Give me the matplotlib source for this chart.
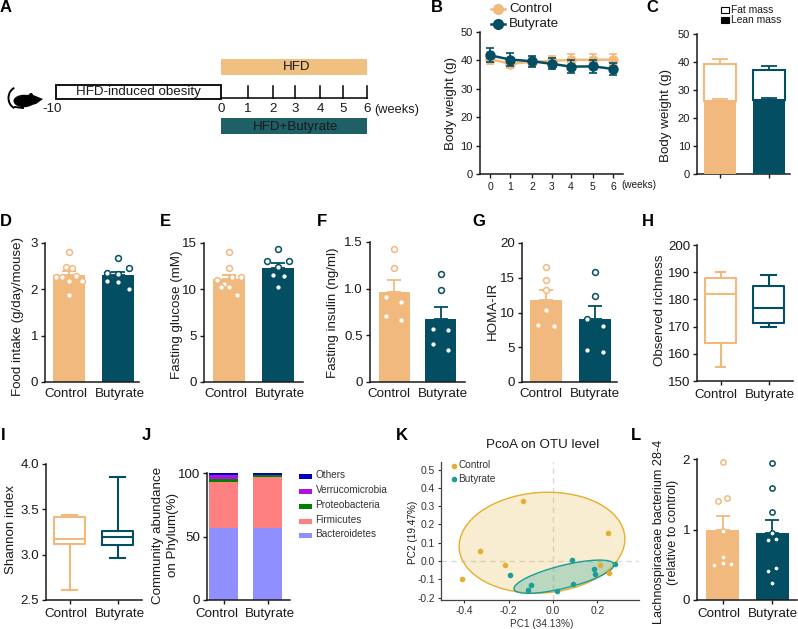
import matplotlib
matplotlib.use("Agg")
import matplotlib.pyplot as plt
from matplotlib.patches import Rectangle, Ellipse, Polygon, Arc
from matplotlib.transforms import ScaledTranslation

plt.rcParams['font.family'] = ['Liberation Sans', 'DejaVu Sans']
W, H = 798, 629
CTRL = '#F2B97E'
BUT = '#034E62'
TXT = '#1a1a1a'
groups = ['Control', 'Butyrate']

# Panel B
weeks = [0, 1, 2, 3, 4, 5, 6]
week_pos = [0, 0.98, 2.05, 3.0, 3.95, 5.02, 6.0]
b_ctrl = [40.5, 38.8, 39.5, 39.8, 40.2, 40.2, 40.3]
b_ctrl_err = [1.8, 1.6, 1.6, 1.9, 1.9, 2.0, 1.9]
b_but = [41.8, 40.3, 39.7, 38.8, 37.8, 37.9, 37.0]
b_but_err = [2.4, 2.3, 1.9, 2.0, 2.2, 2.3, 2.1]
# Panel C
c_lean = [26.0, 26.6]
c_lean_err = [0.7, 0.7]
c_total = [39.3, 37.0]
c_total_err = [1.8, 1.7]
# Panel D
d_mean = [2.3, 2.3]
d_err = [0.1, 0.08]
d_c_x = [0, -0.07, 0.07, -0.27, -0.136, 0, 0.136, 0.27, 0]
d_c_y = [2.8, 2.48, 2.45, 2.27, 2.27, 2.19, 2.28, 2.19, 1.88]
d_b_x = [0, 0.22, -0.22, 0, -0.22, 0, 0.22]
d_b_y = [2.67, 2.45, 2.35, 2.34, 2.17, 2.15, 2.0]
# Panel E
e_mean = [11.1, 12.25]
e_err = [0.5, 0.55]
e_c_x = [0, 0, -0.25, 0.07, 0.24, -0.1, -0.17, 0, 0.16]
e_c_y = [14.0, 12.3, 11.0, 11.3, 11.3, 10.6, 10.3, 10.2, 9.4]
e_b_x = [0, -0.226, 0.226, 0, -0.1, 0.116, 0]
e_b_y = [14.3, 13.1, 13.1, 12.4, 11.6, 11.4, 10.2]
# Panel F
f_mean = [0.965, 0.67]
f_err = [0.125, 0.135]
f_c_x = [0, 0, -0.17, 0.16, -0.17, 0.16]
f_c_y = [1.42, 1.225, 0.914, 0.857, 0.71, 0.668]
f_b_x = [0, 0, -0.17, 0.16, -0.17, 0.16]
f_b_y = [1.16, 0.99, 0.568, 0.56, 0.407, 0.34]
# Panel G
g_mean = [11.85, 9.05]
g_err = [1.45, 1.85]
g_c_x = [0, 0, 0, 0, -0.17, 0.16]
g_c_y = [16.6, 14.7, 13.2, 10.3, 8.25, 8.05]
g_b_x = [0, 0, -0.17, 0.17, -0.16, 0.17]
g_b_y = [15.8, 12.4, 9.0, 8.1, 4.55, 4.3]
# Panels H and I (whisker low, q1, median, q3, whisker high)
h_ctrl = [155, 164, 182, 188, 190]
h_but = [170, 171.5, 177, 185, 189]
i_ctrl = [2.61, 3.12, 3.17, 3.42, 3.44]
i_but = [2.96, 3.11, 3.19, 3.26, 3.86]
# Panel J
phyla = ['Bacteroidetes', 'Firmicutes', 'Proteobacteria', 'Verrucomicrobia', 'Others']
phyla_colors = ['#8F8FFF', '#FF8080', '#008000', '#B010E0', '#0000C0']
j_ctrl = [56.3, 37.0, 2.0, 3.2, 1.5]
j_but = [56.8, 39.7, 2.0, 0.1, 1.4]
# Panel K
k_c_x = [-0.137, 0.25, -0.33, -0.217, -0.41, 0.212, 0.254]
k_c_y = [0.327, 0.153, 0.055, -0.02, -0.10, -0.02, -0.064]
k_b_x = [0.087, 0.183, 0.19, 0.281, -0.194, -0.099, -0.113, 0.092, 0.018]
k_b_y = [0.005, -0.042, -0.069, -0.016, -0.075, -0.133, -0.159, -0.126, -0.164]
# Panel L
l_mean = [1.0, 0.95]
l_err = [0.19, 0.19]
l_c_x = [0, 0.09, -0.087, 0, 0, -0.167, 0, 0.173]
l_c_y = [1.96, 1.45, 1.405, 0.985, 0.61, 0.495, 0.52, 0.514]
l_b_x = [0, 0, 0, 0, -0.087, 0.08, 0.08, -0.087, 0]
l_b_y = [1.95, 1.59, 1.25, 0.95, 0.85, 0.87, 0.45, 0.41, 0.236]

fig = plt.figure(figsize=(W / 100, H / 100), dpi=100)
ov = fig.add_axes([0, 0, 1, 1], zorder=5)
ov.set_xlim(0, W)
ov.set_ylim(H, 0)
ov.axis('off')
ov.patch.set_alpha(0)


def make_ax(left, right, top, bottom, ylim, c0=None, c1=None, yticks=None, ylabels=None,
            tick_len=0, xlabels=True, fs=9.6, dx=(-3, 2)):
    ax = fig.add_axes([left / W, 1 - bottom / H, (right - left) / W, (bottom - top) / H])
    ax.patch.set_alpha(0)
    ax.set_ylim(*ylim)
    for s in ('top', 'right'):
        ax.spines[s].set_visible(False)
    for s in ('left', 'bottom'):
        ax.spines[s].set_linewidth(1.1)
        ax.spines[s].set_color(TXT)
    if c0 is not None:
        ax.set_xlim((left - c0) / (c1 - c0), (right - c0) / (c1 - c0))
        ax.set_xticks([0, 1])
        ax.set_xticklabels(groups if xlabels else ['', ''])
    if yticks is not None:
        ax.set_yticks(yticks)
        ax.set_yticklabels(ylabels if ylabels else [str(t) for t in yticks])
    ax.tick_params(axis='x', length=tick_len, width=1, labelsize=fs, pad=4.5 if tick_len == 0 else 2.5, colors=TXT)
    ax.tick_params(axis='y', length=3, width=1, labelsize=fs, pad=2, colors=TXT)
    if c0 is not None:
        for lab, d in zip(ax.get_xticklabels(), dx):
            lab.set_transform(lab.get_transform() + ScaledTranslation(d / 100, 0, fig.dpi_scale_trans))
    return ax


def ylabel(ax, text, x, y, fs=9.6):
    ax.set_ylabel(text, fontsize=fs, color=TXT, va='center', ha='center', linespacing=1.25)
    ax.yaxis.set_label_coords(x, y, transform=ov.transData)


def bar_panel(ax, means, errs, c_x, c_y, b_x, b_y, bw, ms=4.2):
    for i, col in enumerate((CTRL, BUT)):
        ax.bar(i, means[i], bw, color=col, zorder=2)
        ax.errorbar(i, means[i], yerr=[[0], [errs[i]]], color=col, capsize=5, capthick=1.3,
                    elinewidth=1.3, zorder=3)
    ax.plot(c_x, c_y, 'o', ms=ms, mfc='white', mec=CTRL, mew=1.1, ls='none', zorder=4)
    ax.plot([1 + v for v in b_x], b_y, 'o', ms=ms, mfc='white', mec=BUT, mew=1.1, ls='none', zorder=4)


def box_panel(ax, ctrl, but, bw, caps=(0.3, 0.3)):
    for i, (vals, col) in enumerate(zip((ctrl, but), (CTRL, BUT))):
        st = [dict(whislo=vals[0], q1=vals[1], med=vals[2], q3=vals[3], whishi=vals[4], fliers=[])]
        style = dict(color=col, linewidth=1.5)
        ax.bxp(st, positions=[i], widths=[bw], capwidths=[caps[i]], manage_ticks=False,
               boxprops=style, whiskerprops=style, capprops=style, medianprops=style)


# Panel letters
letters = {'A': (6, 8), 'B': (437, 7), 'C': (652, 7), 'D': (6, 222), 'E': (165, 222), 'F': (322, 222),
           'G': (479, 222), 'H': (648, 222), 'I': (3, 435), 'J': (146, 435), 'K': (402, 435), 'L': (636, 436)}
for k, (x, y) in letters.items():
    ov.text(x, y, k, fontsize=12, fontweight='bold', color='black', ha='center', va='center')

# Panel A: schematic
ov.add_patch(Rectangle((221, 59), 146, 16, fc='#F0C080', ec='none'))
ov.add_patch(Rectangle((221, 118), 146, 15.5, fc='#1F5F66', ec='none'))
ov.add_patch(Rectangle((55.5, 85), 165.5, 14, fc='white', ec='black', lw=1.3))
ov.text(297, 67.5, 'HFD', fontsize=9.6, ha='center', va='center', color=TXT)
ov.text(296, 127, 'HFD+Butyrate', fontsize=9.6, ha='center', va='center', color=TXT)
ov.text(138, 92, 'HFD-induced obesity', fontsize=9.6, ha='center', va='center', color=TXT)
ov.plot([221, 367], [97.5, 97.5], color='black', lw=1.1)
for x, lab in zip([221, 248, 273, 295, 320, 343, 367], ['0', '1', '2', '3', '4', '5', '6']):
    if lab != '0':
        ov.plot([x, x], [86, 97.5], color='black', lw=1.1)
    ov.text(x, 109, lab, fontsize=9.6, ha='center', va='center', color=TXT)
ov.text(52, 109, '-10', fontsize=9.6, ha='center', va='center', color=TXT)
ov.text(396.5, 109.5, '(weeks)', fontsize=9.2, ha='center', va='center', color=TXT)
# mouse icon
ov.add_patch(Ellipse((24, 101), 21, 12.5, fc='black', ec='none'))
ov.add_patch(Polygon([[26, 95], [32, 94.5], [43, 99], [36, 104], [28, 106]], fc='black', ec='none'))
ov.add_patch(Ellipse((31, 95), 4, 4, fc='black', ec='none'))
ov.add_patch(Arc((18, 98), 19, 22, theta1=110, theta2=250, color='black', lw=1.4))
ov.plot([15, 23], [107, 108], color='black', lw=1.4)

# Panel B
ax = make_ax(479.5, 623, 32, 174, (0, 50), yticks=[0, 10, 20, 30, 40, 50], tick_len=3, fs=8)
ax.set_xlim((479.5 - 490) / 20.5, (623 - 490) / 20.5)
ax.set_xticks(week_pos)
ax.set_xticklabels([str(w) for w in weeks], fontsize=7.5)
ax.errorbar(week_pos, b_ctrl, yerr=b_ctrl_err, color=CTRL, marker='o', ms=6.5, lw=1.8, capsize=3.2,
            capthick=1.2, elinewidth=1.2, zorder=3)
ax.errorbar(week_pos, b_but, yerr=b_but_err, color=BUT, marker='o', ms=6.5, lw=1.8, capsize=3.2,
            capthick=1.2, elinewidth=1.2, zorder=4)
ylabel(ax, 'Body weight (g)', 451, 103)
ov.text(639, 185.5, '(weeks)', fontsize=7.2, ha='center', va='center', color=TXT)
for y, col, lab in zip((9, 24), (CTRL, BUT), groups):
    ov.plot([491, 505], [y, y], color=col, lw=1.8)
    ov.plot([498], [y], 'o', color=col, ms=7)
    ov.text(509, y - 0.5, lab, fontsize=9.6, ha='left', va='center', color=TXT)

# Panel C
ax = make_ax(697, 790, 34, 174, (0, 50), 720, 769, [0, 10, 20, 30, 40, 50], tick_len=3, xlabels=False, fs=8)
bw = 32 / 49
for i, col in enumerate((CTRL, BUT)):
    ax.errorbar(i, c_total[i], yerr=[[0], [c_total_err[i]]], color=col, capsize=5.5, capthick=1.3, elinewidth=1.3, zorder=1)
    ax.errorbar(i, c_lean[i], yerr=[[0], [c_lean_err[i]]], color=col, capsize=5.5, capthick=1.3, elinewidth=1.3, zorder=3)
    ax.bar(i, c_total[i] - c_lean[i], bw, bottom=c_lean[i], fc='white', ec=col, lw=1.5, zorder=2)
    ax.bar(i, c_lean[i], bw, color=col, zorder=3)
ylabel(ax, 'Body weight (g)', 666, 115)
for y, fc, lab in zip((10, 20), ('white', 'black'), ('Fat mass', 'Lean mass')):
    ov.add_patch(Rectangle((721, y - 2.8), 7.5, 5.6, fc=fc, ec='black', lw=0.8))
    ov.text(731, y, lab, fontsize=7.4, ha='left', va='center', color=TXT)

# Panel D
ax = make_ax(45, 139, 243, 382, (0, 3), 69, 118, [0, 1, 2, 3])
bar_panel(ax, d_mean, d_err, d_c_x, d_c_y, d_b_x, d_b_y, 32 / 49)
ylabel(ax, 'Food intake (g/day/mouse)', 18, 316)

# Panel E
ax = make_ax(204, 303, 243, 382, (0, 15), 229, 278, [0, 5, 10, 15], dx=(-3, 1.5))
bar_panel(ax, e_mean, e_err, e_c_x, e_c_y, e_b_x, e_b_y, 32 / 49)
ylabel(ax, 'Fasting glucose (mM)', 177, 315)

# Panel F
ax = make_ax(370, 465, 242, 382, (0, 1.5), 394, 440.5, [0, 0.5, 1.0, 1.5], ['0', '0.5', '1.0', '1.5'], dx=(-5, 2))
bar_panel(ax, f_mean, f_err, f_c_x, f_c_y, f_b_x, f_b_y, 31 / 46.5)
ylabel(ax, 'Fasting insulin (ng/ml)', 333, 313)

# Panel G
ax = make_ax(522, 617, 243, 382, (0, 20), 546, 595, [0, 5, 10, 15, 20], dx=(-5, 0))
bar_panel(ax, g_mean, g_err, g_c_x, g_c_y, g_b_x, g_b_y, 32 / 49)
ylabel(ax, 'HOMA-IR', 493, 311)

# Panel H
ax = make_ax(697, 793, 245, 381, (150, 200), 720.5, 768.5, [150, 160, 170, 180, 190, 200], tick_len=3, dx=(-4.5, 1.5))
box_panel(ax, h_ctrl, h_but, 31 / 48, caps=(0.2, 0.3))
ylabel(ax, 'Observed richness', 660, 310)

# Panel I
ax = make_ax(46, 142, 464, 600, (2.5, 4.0), 69.5, 117.5, [2.5, 3.0, 3.5, 4.0], tick_len=3, dx=(-3.5, 2.5))
box_panel(ax, i_ctrl, i_but, 31 / 48)
ylabel(ax, 'Shannon index', 11, 530)

# Panel J
ax = make_ax(207, 290, 473, 600, (0, 100), 223.5, 267.5, [0, 50, 100], tick_len=3, dx=(-6.5, 2.5))
bottoms = [0.0, 0.0]
for k, (name, col) in enumerate(zip(phyla, phyla_colors)):
    vals = [j_ctrl[k], j_but[k]]
    ax.bar([0, 1], vals, 29 / 44, bottom=bottoms, color=col, zorder=2)
    bottoms = [bottoms[0] + vals[0], bottoms[1] + vals[1]]
ylabel(ax, 'Community abundance\non Phylum(%)', 165.5, 535)
for name, col, y in zip(phyla[::-1], phyla_colors[::-1], [476, 491, 506, 521, 535]):
    ov.add_patch(Rectangle((298.5, y - 2.5), 13.5, 5.5, fc=col, ec='none'))
    ov.text(315.5, y - 1, name, fontsize=7.2, ha='left', va='center', color='#333333')

# Panel K
ax = fig.add_axes([441 / W, 1 - 600 / H, (639 - 441) / W, (600 - 462) / H])
ax.patch.set_alpha(0)
ax.set_xlim((441 - 553) / 221.7, (639 - 553) / 221.7)
ax.set_ylim((561 - 600) / 182.7, (561 - 462) / 182.7)
for s in ('top', 'right'):
    ax.spines[s].set_visible(False)
for s in ('left', 'bottom'):
    ax.spines[s].set_color('#444444')
    ax.spines[s].set_linewidth(0.9)
ax.set_xticks([-0.4, -0.2, 0.0, 0.2])
ax.set_xticklabels(['-0.4', '-0.2', '0.0', '0.2'])
ax.set_yticks([-0.2, -0.1, 0.0, 0.1, 0.2, 0.3, 0.4, 0.5])
ax.set_yticklabels(['-0.2', '-0.1', '0.0', '0.1', '0.2', '0.3', '0.4', '0.5'])
ax.tick_params(labelsize=7.4, length=2.5, width=0.8, pad=2, colors='#333333')
ax.axhline(0, color='#d9d9d9', lw=1, ls=(0, (4, 3)), zorder=1)
ax.axvline(0, color='#d9d9d9', lw=1, ls=(0, (4, 3)), zorder=1)
K_C, K_B = '#E5AE2F', '#1A9E96'
ax.add_patch(Ellipse((542, 542.7), 166, 100.5, angle=-4, fc=K_C, alpha=0.22, ec='none',
                     transform=ov.transData, zorder=2, clip_on=False))
ax.add_patch(Ellipse((542, 542.7), 166, 100.5, angle=-4, fc='none', ec=K_C, lw=1,
                     transform=ov.transData, zorder=3, clip_on=False))
ax.add_patch(Ellipse((564, 576.7), 103, 22.7, angle=-14, fc=K_B, alpha=0.28, ec='none',
                     transform=ov.transData, zorder=2, clip_on=False))
ax.add_patch(Ellipse((564, 576.7), 103, 22.7, angle=-14, fc='none', ec=K_B, lw=1,
                     transform=ov.transData, zorder=3, clip_on=False))
ax.plot(k_c_x, k_c_y, 'o', ms=3, color=K_C, ls='none', zorder=4, clip_on=False)
ax.plot(k_b_x, k_b_y, 'o', ms=3, color=K_B, ls='none', zorder=4, clip_on=False)
ax.set_xlabel('PC1 (34.13%)', fontsize=7.2, color='#333333')
ax.xaxis.set_label_coords(542, 624, transform=ov.transData)
ax.xaxis.label.set_va('center')
ylabel(ax, 'PC2 (19.47%)', 413, 532, fs=7.2)
ov.text(543, 445, 'PcoA on OTU level', fontsize=9.6, color=TXT, ha='center', va='center')
for y, col, lab in zip((466, 479), (K_C, K_B), groups):
    ov.plot([454], [y], 'o', ms=3, color=col)
    ov.text(458.5, y - 0.5, lab, fontsize=7.2, ha='left', va='center', color='#333333')

# Panel L
ax = make_ax(697, 797, 459, 600, (0, 2), 722.5, 772, [0, 1, 2], tick_len=3, dx=(-3.5, 1))
bar_panel(ax, l_mean, l_err, l_c_x, l_c_y, l_b_x, l_b_y, 33 / 49.5, ms=3.8)
ylabel(ax, 'Lachnospiraceae bacterium 28-4\n(relative to control)', 666, 532, fs=9.1)

fig.savefig('out.png', dpi=100)
